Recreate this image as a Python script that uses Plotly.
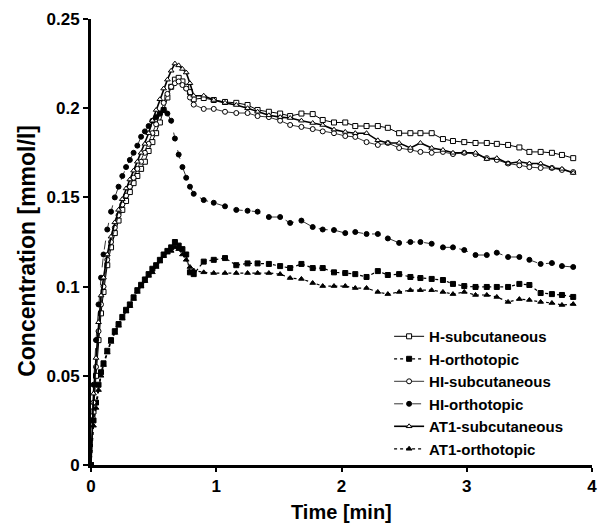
import plotly.graph_objects as go

# Time points (min)
time_min = [0, 0.02, 0.04, 0.06, 0.08, 0.10, 0.13, 0.16, 0.19, 0.22, 0.25, 0.28, 0.31, 0.34, 0.37,
            0.40, 0.43, 0.46, 0.49, 0.52, 0.55, 0.58, 0.61, 0.64, 0.67, 0.70, 0.73, 0.76, 0.79, 0.82,
            0.90, 0.98, 1.07, 1.16, 1.25, 1.33, 1.42, 1.51, 1.59, 1.68, 1.77, 1.85, 1.94, 2.03, 2.11,
            2.20, 2.29, 2.37, 2.46, 2.55, 2.63, 2.72, 2.81, 2.89, 2.98, 3.07, 3.16, 3.24, 3.33, 3.42,
            3.50, 3.59, 3.68, 3.76, 3.85]

h_subcutaneous = [0, 0.030, 0.050, 0.070, 0.085, 0.097, 0.112, 0.122, 0.130, 0.137, 0.143, 0.148, 0.153, 0.158, 0.162,
                  0.166, 0.170, 0.176, 0.181, 0.186, 0.192, 0.199, 0.206, 0.212, 0.216, 0.217, 0.215, 0.212, 0.209, 0.205,
                  0.2057, 0.2046, 0.2035, 0.203, 0.2018, 0.199, 0.198, 0.197, 0.1956, 0.197, 0.1967, 0.1934, 0.192, 0.192, 0.190,
                  0.190, 0.190, 0.189, 0.186, 0.186, 0.186, 0.186, 0.1827, 0.1816, 0.181, 0.1805, 0.1805, 0.180, 0.1794, 0.178,
                  0.1755, 0.1755, 0.175, 0.1738, 0.172]

h_orthotopic = [0, 0.025, 0.035, 0.045, 0.052, 0.057, 0.064, 0.070, 0.075, 0.079, 0.083, 0.087, 0.090, 0.094, 0.098,
                0.101, 0.104, 0.107, 0.110, 0.112, 0.115, 0.118, 0.120, 0.122, 0.125, 0.123, 0.121, 0.118, 0.108, 0.107,
                0.114, 0.115, 0.116, 0.112, 0.113, 0.113, 0.1127, 0.1115, 0.1104, 0.1127, 0.1104, 0.1104, 0.108, 0.1076, 0.107,
                0.1054, 0.1087, 0.1065, 0.107, 0.1054, 0.1048, 0.1043, 0.1037, 0.1015, 0.1003, 0.0998, 0.0998, 0.0998, 0.0998, 0.1015,
                0.1009, 0.0964, 0.0958, 0.0953, 0.0942]

hi_subcutaneous = [0, 0.035, 0.055, 0.075, 0.090, 0.100, 0.115, 0.125, 0.133, 0.140, 0.146, 0.151, 0.156, 0.161, 0.166,
                   0.170, 0.175, 0.180, 0.186, 0.191, 0.197, 0.203, 0.208, 0.212, 0.214, 0.215, 0.213, 0.211, 0.206, 0.202,
                   0.1996, 0.1996, 0.198, 0.1973, 0.1973, 0.1956, 0.195, 0.193, 0.1906, 0.1895, 0.1883, 0.187, 0.186, 0.1844, 0.1839,
                   0.181, 0.1794, 0.1805, 0.1777, 0.1766, 0.1755, 0.175, 0.1755, 0.1743, 0.175, 0.1743, 0.172, 0.171, 0.169, 0.168,
                   0.167, 0.1665, 0.1665, 0.1654, 0.1642]

hi_orthotopic = [0, 0.045, 0.070, 0.090, 0.105, 0.118, 0.132, 0.142, 0.150, 0.156, 0.162, 0.167, 0.171, 0.175, 0.179,
                 0.184, 0.187, 0.190, 0.193, 0.195, 0.197, 0.199, 0.197, 0.193, 0.183, 0.174, 0.167, 0.161, 0.156, 0.152,
                 0.1485, 0.147, 0.145, 0.143, 0.1425, 0.142, 0.139, 0.139, 0.1357, 0.137, 0.1334, 0.132, 0.1317, 0.130, 0.1306,
                 0.1295, 0.1295, 0.127, 0.1245, 0.125, 0.125, 0.124, 0.122, 0.122, 0.1205, 0.1177, 0.1177, 0.119, 0.1166, 0.1166,
                 0.115, 0.1127, 0.1132, 0.1115, 0.111]

at1_subcutaneous = [0, 0.040, 0.060, 0.080, 0.095, 0.105, 0.118, 0.128, 0.136, 0.143, 0.149, 0.155, 0.160, 0.165, 0.170,
                    0.175, 0.180, 0.186, 0.193, 0.199, 0.205, 0.211, 0.216, 0.221, 0.225, 0.224, 0.222, 0.220, 0.214, 0.207,
                    0.207, 0.2046, 0.203, 0.2018, 0.200, 0.198, 0.196, 0.195, 0.1945, 0.193, 0.1917, 0.1906, 0.188, 0.1867, 0.186,
                    0.186, 0.182, 0.1805, 0.1805, 0.1777, 0.1805, 0.1777, 0.1766, 0.175, 0.175, 0.175, 0.1715, 0.172, 0.169, 0.170,
                    0.169, 0.169, 0.1665, 0.166, 0.1637]

at1_orthotopic = [0, 0.022, 0.032, 0.042, 0.050, 0.056, 0.063, 0.069, 0.074, 0.078, 0.082, 0.086, 0.089, 0.093, 0.097,
                  0.100, 0.103, 0.106, 0.108, 0.111, 0.114, 0.117, 0.119, 0.120, 0.122, 0.121, 0.118, 0.115, 0.111, 0.109,
                  0.108, 0.1076, 0.1076, 0.1076, 0.1076, 0.1076, 0.1076, 0.107, 0.1048, 0.1043, 0.102, 0.1003, 0.1003, 0.1003, 0.0992,
                  0.0992, 0.097, 0.0958, 0.097, 0.098, 0.098, 0.098, 0.097, 0.0958, 0.097, 0.0953, 0.0953, 0.0942, 0.0914, 0.093,
                  0.0925, 0.0914, 0.0908, 0.0897, 0.0902]

series_names = ["H-subcutaneous", "H-orthotopic", "HI-subcutaneous", "HI-orthotopic",
                "AT1-subcutaneous", "AT1-orthotopic"]

x_tick_vals = [0, 1, 2, 3, 4]
y_tick_vals = [0, 0.05, 0.1, 0.15, 0.2, 0.25]
y_tick_text = ["0", "0.05", "0.1", "0.15", "0.2", "0.25"]

styles = [
    dict(symbol="square", fill="white", dash="solid", width=1),
    dict(symbol="square", fill="black", dash="dot", width=1.2),
    dict(symbol="circle", fill="white", dash="solid", width=0.8),
    dict(symbol="circle", fill="black", dash="dash", width=0.8),
    dict(symbol="triangle-up", fill="white", dash="solid", width=1.6),
    dict(symbol="triangle-up", fill="black", dash="dot", width=1.2),
]
data = [h_subcutaneous, h_orthotopic, hi_subcutaneous, hi_orthotopic, at1_subcutaneous, at1_orthotopic]

fig = go.Figure()
for name, ys, st in zip(series_names, data, styles):
    fig.add_trace(go.Scatter(
        x=time_min, y=ys, name=name, mode="lines+markers",
        line=dict(color="black", width=st["width"], dash=st["dash"]),
        marker=dict(symbol=st["symbol"], size=5, color=st["fill"],
                    line=dict(color="black", width=1)),
    ))

font_family = "Liberation Sans, Arial, sans-serif"
fig.update_layout(
    width=601, height=525,
    margin=dict(l=91, r=9, t=19, b=60, autoexpand=False),
    paper_bgcolor="white", plot_bgcolor="white",
    font=dict(family=font_family, color="black"),
    showlegend=True,
    legend=dict(x=0.595, y=0.325, xanchor="left", yanchor="top",
                font=dict(size=15, family=font_family, weight="bold"),
                bgcolor="rgba(0,0,0,0)", tracegroupgap=0, itemwidth=30),
    xaxis=dict(range=[0, 4], tickvals=x_tick_vals, showgrid=False, zeroline=False,
               showline=True, linecolor="black", linewidth=2.5, automargin=False,
               ticks="outside", ticklen=4, tickwidth=2, tickcolor="black",
               tickfont=dict(size=17, weight="bold")),
    yaxis=dict(range=[0, 0.25], tickvals=y_tick_vals, ticktext=y_tick_text, showgrid=False,
               zeroline=False, showline=True, linecolor="black", linewidth=3, automargin=False,
               ticks="outside", ticklen=5, tickwidth=2, tickcolor="black",
               tickfont=dict(size=17, weight="bold")),
    annotations=[
        dict(text="Time [min]", xref="paper", yref="paper", x=0.5, y=-0.076,
             xanchor="center", yanchor="top", showarrow=False,
             font=dict(size=20, weight="bold")),
        dict(text="Concentration [mmol/l]", xref="paper", yref="paper", x=-0.128, y=0.48,
             xanchor="center", yanchor="middle", textangle=-90, showarrow=False,
             font=dict(size=23, weight="bold")),
    ],
)

fig.write_html("out.html", config={"displayModeBar": False},
               post_script="document.body.style.margin='0';document.body.style.padding='0';")
